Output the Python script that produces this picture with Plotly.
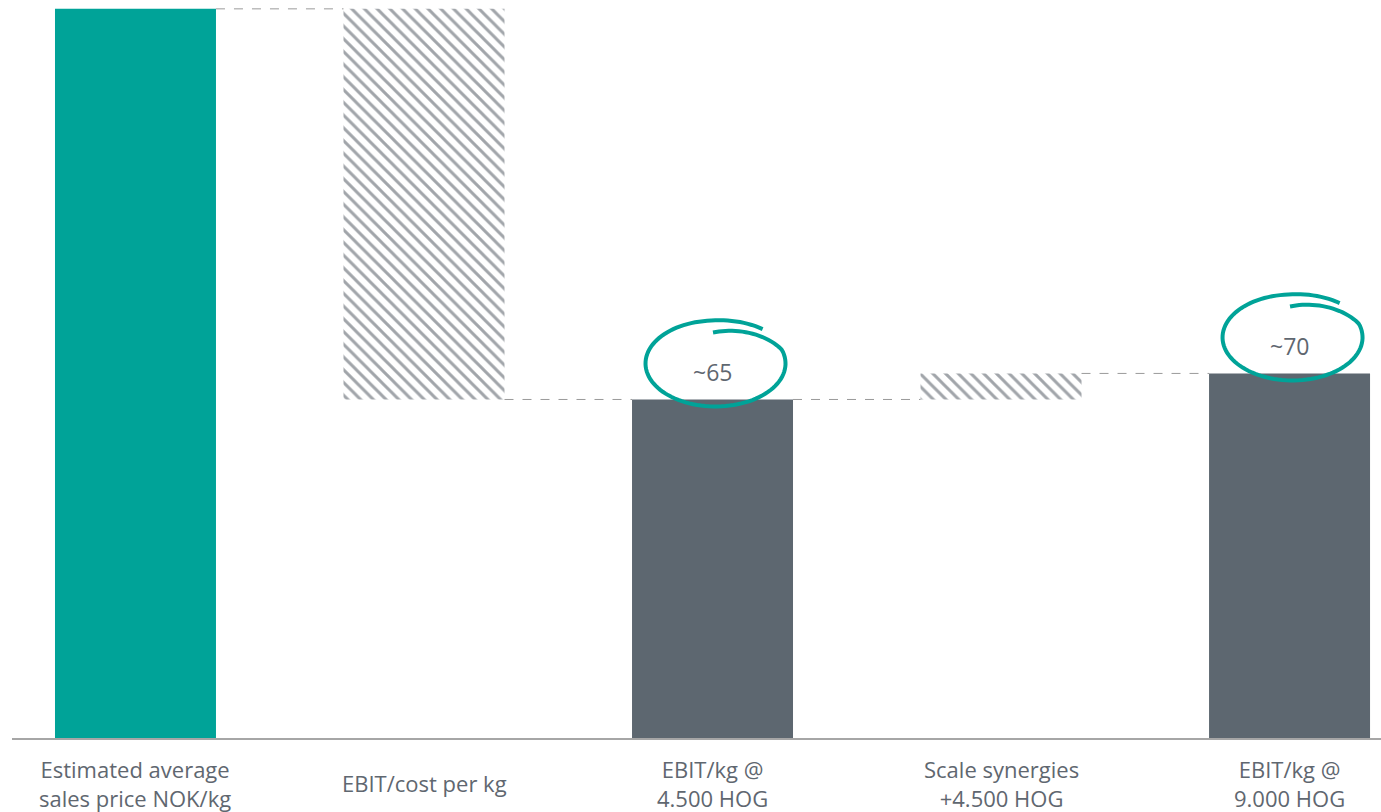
import math
import plotly.graph_objects as go

# ---- data ----
categories = ["Estimated average<br>sales price NOK/kg", "EBIT/cost per kg",
              "EBIT/kg @<br>4.500 HOG", "Scale synergies<br>+4.500 HOG",
              "EBIT/kg @<br>9.000 HOG"]
kinds = ["total", "delta", "total", "delta", "total"]
values = [140, -75, 65, 5, 70]
bubble_labels = ["", "", "~65", "", "~70"]

TEAL = "#00A398"
DARK = "#5D6770"
HATCH = "#444C55"
TEXT = "#5F6770"
GRID = "#A6A6A6"
FONT = "Open Sans"

W, H = 1381, 812
ML, MR, MT, MB = 12, 0, 0, 74
PLOT_H = H - MT - MB
x_range = [-0.428, 4.317]
y_range = [0, 141.7]
px_per_x = (W - ML - MR) / (x_range[1] - x_range[0])
px_per_y = PLOT_H / (y_range[1] - y_range[0])

# compute bases / heights
bases, heights, running = [], [], 0
for k, v in zip(kinds, values):
    if k == "total":
        bases.append(0); heights.append(v); running = v
    else:
        lo = min(running, running + v)
        bases.append(lo); heights.append(abs(v)); running = running + v
tops = [b + h for b, h in zip(bases, heights)]
ends = []
running = 0
for k, v in zip(kinds, values):
    running = v if k == "total" else running + v
    ends.append(running)

xs = list(range(len(categories)))
bw = 0.558
fig = go.Figure()

solid_colors = [TEAL, None, DARK, None, DARK]
sx = [x for x, k in zip(xs, kinds) if k == "total"]
fig.add_trace(go.Bar(x=sx, y=[heights[i] for i in sx], base=[bases[i] for i in sx],
                     width=bw, marker=dict(color=[solid_colors[i] for i in sx], line=dict(width=0)),
                     hoverinfo="skip", showlegend=False))
dx = [x for x, k in zip(xs, kinds) if k == "delta"]
fig.add_trace(go.Bar(x=dx, y=[heights[i] for i in dx], base=[bases[i] for i in dx],
                     width=bw,
                     marker=dict(color="white", line=dict(width=0),
                                 pattern=dict(shape="\\", fgcolor=HATCH, bgcolor="white",
                                              size=9, solidity=0.33)),
                     hoverinfo="skip", showlegend=False))

shapes = []
# connectors
for i in range(len(xs) - 1):
    level = ends[i]
    shapes.append(dict(type="line", xref="x", yref="y", x0=xs[i] + bw / 2, x1=xs[i + 1] - bw / 2,
                       y0=level, y1=level, line=dict(color="#9A9A9A", width=1, dash="dash")))

# hand-drawn style ellipses around labels
def ellipse_path(cx, cy, rx_px, ry_px, cy_off_px):
    pts = []
    t0 = -math.pi / 2 - 0.05
    t1 = t0 + 2 * math.pi + 0.75
    n = 120
    for j in range(n + 1):
        t = t0 + (t1 - t0) * j / n
        s = 0.72 + 0.28 * min(1.0, (t - t0) / 1.3)
        if t > t0 + 2 * math.pi:
            s = 1.0 + 0.06 * (t - t0 - 2 * math.pi)
        px = rx_px * s * math.cos(t)
        py = ry_px * s * math.sin(t) + cy_off_px  # screen px, down positive
        pts.append((cx + px / px_per_x, cy - py / px_per_y))
    return "M " + " L ".join(f"{a:.4f},{b:.4f}" for a, b in pts)

annotations = []
for i, lab in enumerate(bubble_labels):
    if not lab:
        continue
    off_x = 3 / px_per_x
    shapes.append(dict(type="path", xref="x", yref="y",
                       path=ellipse_path(xs[i] + off_x, tops[i], 70, 43, -36),
                       line=dict(color=TEAL, width=4)))
    annotations.append(dict(x=xs[i], y=tops[i], xref="x", yref="y", text=lab, showarrow=False,
                            yanchor="middle", yshift=27,
                            font=dict(family=FONT, size=23, color=TEXT)))

for i, c in enumerate(categories):
    annotations.append(dict(x=xs[i], y=-45 / PLOT_H, xref="x", yref="paper", text=c,
                            showarrow=False, yanchor="middle", xanchor="center",
                            font=dict(family=FONT, size=22, color=TEXT)))

fig.update_layout(
    width=W, height=H, margin=dict(l=ML, r=MR, t=MT, b=MB),
    plot_bgcolor="white", paper_bgcolor="white", barmode="overlay",
    xaxis=dict(range=x_range, showgrid=False, zeroline=False, showticklabels=False, ticks="",
               showline=True, linecolor=GRID, linewidth=2, fixedrange=True),
    yaxis=dict(range=y_range, showgrid=False, zeroline=False, showticklabels=False,
               showline=False, fixedrange=True),
    shapes=shapes, annotations=annotations, showlegend=False,
)
fig.write_html("out.html", config={"displayModeBar": False})
